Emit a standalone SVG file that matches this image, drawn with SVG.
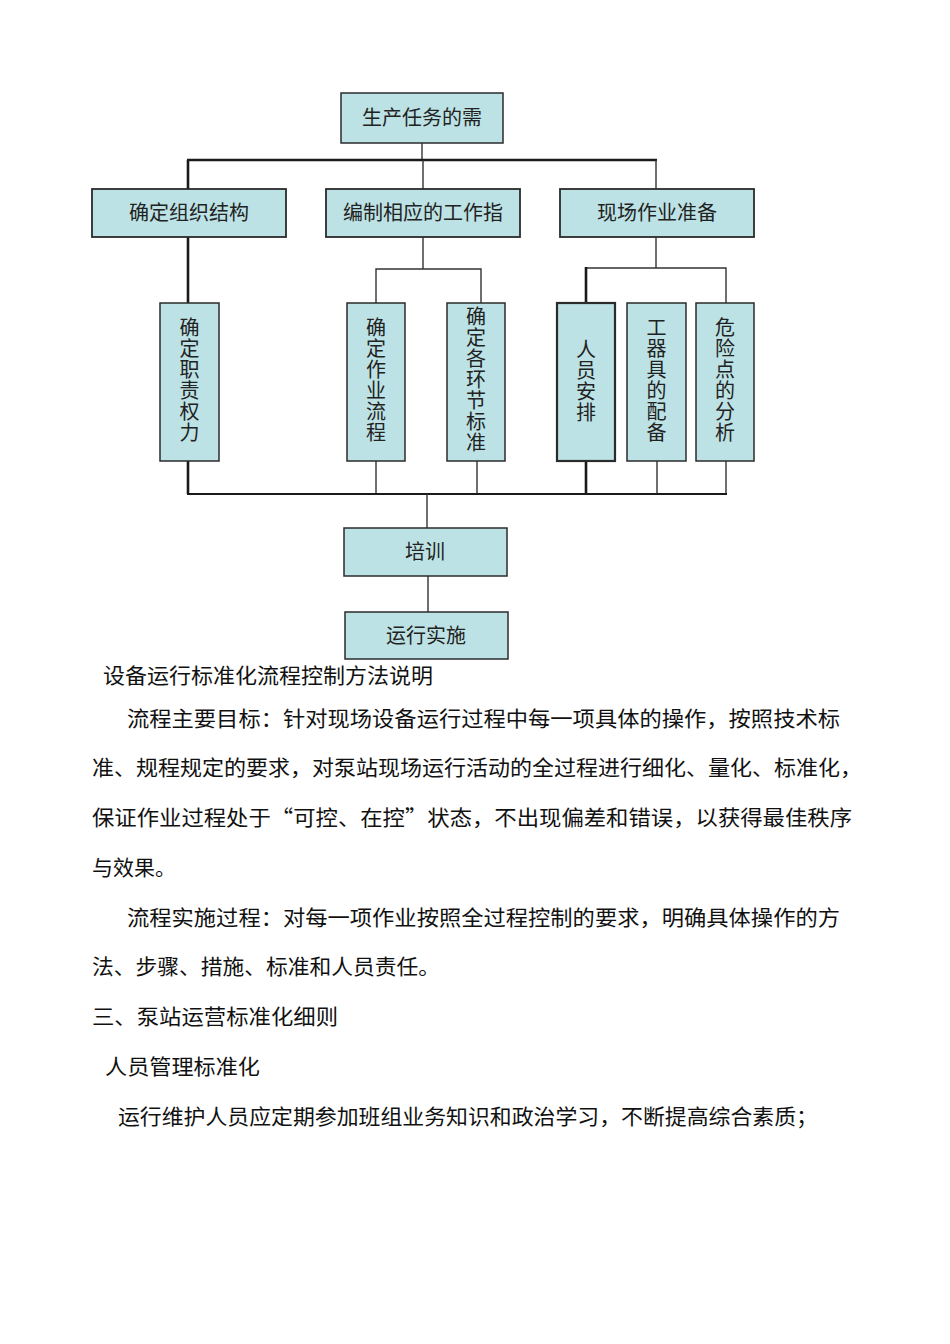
<svg xmlns="http://www.w3.org/2000/svg" width="950" height="1344" viewBox="0 0 950 1344">
<style>
.box{fill:#bde2e5;stroke:#2b2b2b;stroke-width:1.5}
.lbl{font-family:"Noto Sans CJK SC","Liberation Sans",sans-serif;font-size:20px;fill:#222;text-anchor:middle}
.vl{font-family:"Noto Sans CJK SC","Liberation Sans",sans-serif;font-size:20px;fill:#222;writing-mode:vertical-rl;text-orientation:upright;letter-spacing:1px}
.thin{stroke:#333;stroke-width:1.4;fill:none}
.thick{stroke:#1a1a1a;stroke-width:2.6;fill:none}
.body{font-family:"Noto Sans CJK SC","Liberation Serif",serif;font-size:21px;fill:#111}
</style>
<rect width="950" height="1344" fill="#fff"/>
<g id="connectors">
<line class="thin" x1="422" y1="143" x2="422" y2="160"/>
<line class="thick" x1="187" y1="160" x2="657" y2="160"/>
<line class="thick" x1="188" y1="160" x2="188" y2="189"/>
<line class="thin" x1="423" y1="160" x2="423" y2="189"/>
<line class="thin" x1="656" y1="160" x2="656" y2="189"/>
<line class="thick" x1="188" y1="237" x2="188" y2="303"/>
<line class="thin" x1="423" y1="237" x2="423" y2="269"/>
<polyline class="thin" points="376,303 376,269 481,269 481,303"/>
<line class="thin" x1="656" y1="237" x2="656" y2="268"/>
<polyline class="thin" points="586,268 726,268 726,303"/>
<line class="thick" x1="586" y1="267" x2="586" y2="303"/>
<line class="thick" x1="188" y1="461" x2="188" y2="494"/>
<line class="thin" x1="376" y1="461" x2="376" y2="494"/>
<line class="thin" x1="477" y1="461" x2="477" y2="494"/>
<line class="thick" x1="586" y1="461" x2="586" y2="494"/>
<line class="thin" x1="657" y1="461" x2="657" y2="494"/>
<line class="thin" x1="726" y1="461" x2="726" y2="494"/>
<line class="thick" x1="187" y1="494" x2="727" y2="494" style="stroke-width:2"/>
<line class="thin" x1="427" y1="494" x2="427" y2="528"/>
<line class="thin" x1="428" y1="576" x2="428" y2="612"/>
</g>
<g id="n-top"><rect class="box" x="341" y="93" width="162" height="50"/><text class="lbl" x="422" y="125">生产任务的需</text></g>
<g id="n-org"><rect class="box" x="92" y="189" width="194" height="48" style="stroke-width:1.8"/><text class="lbl" x="189" y="220">确定组织结构</text></g>
<g id="n-guide"><rect class="box" x="326" y="189" width="194" height="48" style="stroke-width:1.8"/><text class="lbl" x="423" y="220">编制相应的工作指</text></g>
<g id="n-site"><rect class="box" x="560" y="189" width="194" height="48" style="stroke-width:1.8"/><text class="lbl" x="657" y="220">现场作业准备</text></g>
<g id="n-duty"><rect class="box" x="160" y="303" width="59" height="158"/><text class="vl" x="189.5" y="317">确定职责权力</text></g>
<g id="n-flow"><rect class="box" x="347" y="303" width="58" height="158"/><text class="vl" x="376" y="317">确定作业流程</text></g>
<g id="n-std"><rect class="box" x="447" y="303" width="58" height="158"/><text class="vl" x="476" y="306">确定各环节标准</text></g>
<g id="n-staff"><rect class="box" x="557" y="303" width="58" height="158" style="stroke-width:2.2"/><text class="vl" x="586" y="339">人员安排</text></g>
<g id="n-tool"><rect class="box" x="627" y="303" width="59" height="158"/><text class="vl" x="656.5" y="317">工器具的配备</text></g>
<g id="n-risk"><rect class="box" x="696" y="303" width="58" height="158"/><text class="vl" x="725" y="317">危险点的分析</text></g>
<g id="n-train"><rect class="box" x="344" y="528" width="163" height="48"/><text class="lbl" x="425" y="559">培训</text></g>
<g id="n-run"><rect class="box" x="345" y="612" width="163" height="47"/><text class="lbl" x="426" y="643">运行实施</text></g>
<g id="body">
<text class="body" x="103" y="683" textLength="330" lengthAdjust="spacingAndGlyphs">设备运行标准化流程控制方法说明</text>
<text class="body" x="127" y="726" textLength="713" lengthAdjust="spacingAndGlyphs">流程主要目标：针对现场设备运行过程中每一项具体的操作，按照技术标</text>
<text class="body" x="92" y="775" textLength="770" lengthAdjust="spacingAndGlyphs">准、规程规定的要求，对泵站现场运行活动的全过程进行细化、量化、标准化，</text>
<text class="body" x="92" y="825" textLength="760" lengthAdjust="spacingAndGlyphs">保证作业过程处于“可控、在控”状态，不出现偏差和错误，以获得最佳秩序</text>
<text class="body" x="92" y="875">与效果。</text>
<text class="body" x="127" y="925" textLength="713" lengthAdjust="spacingAndGlyphs">流程实施过程：对每一项作业按照全过程控制的要求，明确具体操作的方</text>
<text class="body" x="92" y="974" textLength="348" lengthAdjust="spacingAndGlyphs">法、步骤、措施、标准和人员责任。</text>
<text class="body" x="92" y="1024" textLength="246" lengthAdjust="spacingAndGlyphs">三、泵站运营标准化细则</text>
<text class="body" x="105" y="1074" textLength="155" lengthAdjust="spacingAndGlyphs">人员管理标准化</text>
<text class="body" x="118" y="1124" textLength="700" lengthAdjust="spacingAndGlyphs">运行维护人员应定期参加班组业务知识和政治学习，不断提高综合素质；</text>
</g>
</svg>
